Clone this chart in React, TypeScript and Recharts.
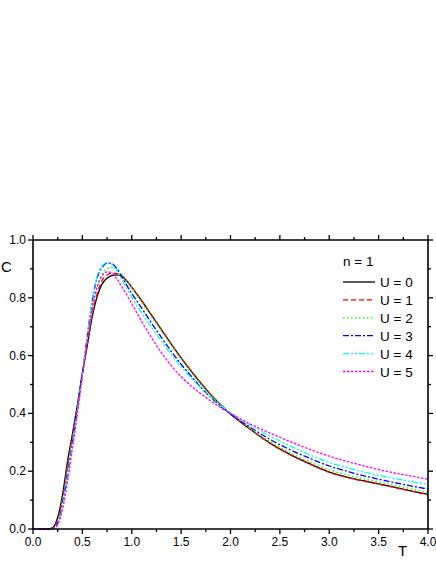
import React from 'react';
import { Line, LineChart, XAxis, YAxis } from 'recharts';

const temps = [
  0, 0.1, 0.15, 0.2, 0.25, 0.3, 0.35, 0.4, 0.45, 0.5, 0.55, 0.6, 0.65, 0.7,
  0.75, 0.8, 0.85, 0.9, 0.95, 1.0, 1.1, 1.2, 1.3, 1.4, 1.5, 1.6, 1.7, 1.8, 1.9,
  2.0, 2.2, 2.4, 2.6, 2.8, 3.0, 3.2, 3.4, 3.6, 3.8, 4.0,
];

const u0 = [
  0, 0, 0, 0.005, 0.04, 0.12, 0.235, 0.33, 0.43, 0.54, 0.635, 0.735, 0.805,
  0.848, 0.868, 0.877, 0.879, 0.874, 0.858, 0.836, 0.79, 0.74, 0.69, 0.64,
  0.592, 0.547, 0.505, 0.465, 0.43, 0.398, 0.345, 0.297, 0.258, 0.226, 0.197,
  0.178, 0.163, 0.149, 0.134, 0.12,
];
const u1 = [
  0, 0, 0, 0.003, 0.032, 0.108, 0.222, 0.322, 0.425, 0.535, 0.64, 0.745, 0.815,
  0.86, 0.879, 0.885, 0.884, 0.876, 0.86, 0.838, 0.79, 0.74, 0.69, 0.64, 0.592,
  0.546, 0.504, 0.465, 0.43, 0.398, 0.345, 0.297, 0.258, 0.225, 0.196, 0.177,
  0.162, 0.148, 0.133, 0.118,
];
const u2 = [
  0, 0, 0, 0.002, 0.026, 0.097, 0.207, 0.312, 0.42, 0.535, 0.65, 0.76, 0.84,
  0.882, 0.9, 0.905, 0.898, 0.882, 0.86, 0.835, 0.785, 0.735, 0.685, 0.636,
  0.588, 0.543, 0.5, 0.462, 0.43, 0.4, 0.348, 0.302, 0.264, 0.233, 0.205,
  0.185, 0.17, 0.156, 0.141, 0.127,
];
const u3 = [
  0, 0, 0, 0.001, 0.021, 0.087, 0.192, 0.3, 0.415, 0.537, 0.668, 0.79, 0.87,
  0.905, 0.92, 0.918, 0.9, 0.872, 0.843, 0.815, 0.765, 0.713, 0.663, 0.615,
  0.57, 0.53, 0.49, 0.455, 0.425, 0.398, 0.352, 0.31, 0.275, 0.245, 0.218,
  0.198, 0.18, 0.165, 0.151, 0.138,
];
const u4 = [
  0, 0, 0, 0.001, 0.018, 0.08, 0.182, 0.29, 0.41, 0.535, 0.67, 0.795, 0.875,
  0.91, 0.922, 0.915, 0.893, 0.862, 0.832, 0.8, 0.748, 0.698, 0.65, 0.604,
  0.562, 0.523, 0.488, 0.456, 0.428, 0.402, 0.36, 0.322, 0.288, 0.257, 0.23,
  0.21, 0.193, 0.179, 0.166, 0.155,
];
const u5 = [
  0, 0, 0, 0.001, 0.015, 0.07, 0.165, 0.28, 0.4, 0.53, 0.655, 0.765, 0.838,
  0.875, 0.89, 0.885, 0.865, 0.838, 0.81, 0.78, 0.718, 0.662, 0.61, 0.565,
  0.527, 0.495, 0.468, 0.443, 0.42, 0.4, 0.363, 0.332, 0.303, 0.276, 0.252,
  0.232, 0.214, 0.198, 0.185, 0.172,
];

const xTicks = [
  0, 0.25, 0.5, 0.75, 1, 1.25, 1.5, 1.75, 2, 2.25, 2.5, 2.75, 3, 3.25, 3.5,
  3.75, 4,
];
const yTicks = [0, 0.1, 0.2, 0.3, 0.4, 0.5, 0.6, 0.7, 0.8, 0.9, 1.0];

const series = [
  { key: 'u0', name: 'U = 0', color: '#000000', dash: undefined },
  { key: 'u1', name: 'U = 1', color: '#ff0000', dash: '5 3' },
  { key: 'u2', name: 'U = 2', color: '#00ff00', dash: '1.5 2.5' },
  { key: 'u3', name: 'U = 3', color: '#0000ff', dash: '6 2 2 2' },
  { key: 'u4', name: 'U = 4', color: '#00ffff', dash: '6 2 2 2 2 2' },
  { key: 'u5', name: 'U = 5', color: '#ff00ff', dash: '2.5 1.5' },
];

const data = temps.map((t, i) => ({
  t,
  u0: u0[i],
  u1: u1[i],
  u2: u2[i],
  u3: u3[i],
  u4: u4[i],
  u5: u5[i],
}));

const font = '"Liberation Sans", Arial, sans-serif';

const isMajor = (v: number, step: number) =>
  Math.abs(v / step - Math.round(v / step)) < 1e-6;

function XTick(props: any) {
  const { x, y, payload, side } = props;
  const v = payload.value;
  const major = isMajor(v, 0.5);
  const len = major ? 5 : 3;
  const dir = side === 'bottom' ? 1 : -1;
  return (
    <g>
      <line x1={x} y1={y} x2={x} y2={y + dir * len} stroke="#000" strokeWidth={1.3} />
      {side === 'bottom' && major && (
        <text x={x} y={y + 17} textAnchor="middle" fontSize={12} fontFamily={font} fill="#000">
          {v.toFixed(1)}
        </text>
      )}
    </g>
  );
}

function YTick(props: any) {
  const { x, y, payload, side } = props;
  const v = payload.value;
  const major = isMajor(v, 0.2);
  const len = major ? 5 : 3;
  const dir = side === 'left' ? -1 : 1;
  return (
    <g>
      <line x1={x} y1={y} x2={x + dir * len} y2={y} stroke="#000" strokeWidth={1.3} />
      {side === 'left' && major && (
        <text x={x - 7} y={y + 4} textAnchor="end" fontSize={12} fontFamily={font} fill="#000">
          {v.toFixed(1)}
        </text>
      )}
    </g>
  );
}

function LegendBox() {
  return (
    <svg width={92} height={140} style={{ fontFamily: font, fontSize: 13.5, display: 'block' }}>
      <text x={0} y={18} fill="#000">n = 1</text>
      {series.map((s, i) => (
        <g key={s.key}>
          <line
            x1={0}
            x2={32}
            y1={34 + i * 17.9}
            y2={34 + i * 17.9}
            stroke={s.color}
            strokeWidth={1.3}
            strokeDasharray={s.dash}
          />
          <text x={37} y={39 + i * 17.9} fill="#000">{s.name}</text>
        </g>
      ))}
    </svg>
  );
}

export default function App() {
  const axisLine = { stroke: '#000', strokeWidth: 1.6 };
  return (
    <div style={{ position: 'absolute', left: 0, top: 0, width: 436, height: 564, background: '#fff' }}>
      <LineChart
        width={436}
        height={564}
        data={data}
        margin={{ top: 239, right: 7, left: 0, bottom: 0 }}
      >
        <XAxis
          dataKey="t"
          type="number"
          domain={[0, 4]}
          ticks={xTicks}
          interval={0}
          height={35}
          axisLine={axisLine}
          tickLine={false}
          tickSize={0}
          tickMargin={0}
          tick={<XTick side="bottom" />}
        />
        <XAxis
          xAxisId="top"
          dataKey="t"
          orientation="top"
          type="number"
          domain={[0, 4]}
          allowDataOverflow
          ticks={xTicks}
          interval={0}
          height={1}
          axisLine={axisLine}
          tickLine={false}
          tickSize={0}
          tickMargin={0}
          tick={<XTick side="top" />}
        />
        <YAxis
          type="number"
          domain={[0, 1]}
          ticks={yTicks}
          interval={0}
          width={33}
          axisLine={axisLine}
          tickLine={false}
          tickSize={0}
          tickMargin={0}
          tick={<YTick side="left" />}
        />
        <YAxis
          yAxisId="right"
          orientation="right"
          type="number"
          domain={[0, 1]}
          allowDataOverflow
          ticks={yTicks}
          interval={0}
          width={1}
          axisLine={axisLine}
          tickLine={false}
          tickSize={0}
          tickMargin={0}
          tick={<YTick side="right" />}
        />
        {series.map((s) => (
          <Line
            key={s.key}
            type="monotone"
            dataKey={s.key}
            name={s.name}
            stroke={s.color}
            strokeWidth={1.3}
            strokeDasharray={s.dash}
            dot={false}
            activeDot={false}
            isAnimationActive={false}
          />
        ))}
      </LineChart>
      <div style={{ position: 'absolute', left: 343, top: 248 }}>
        <LegendBox />
      </div>
      <div style={{ position: 'absolute', left: 1, top: 258, fontFamily: font, fontSize: 15, lineHeight: '18px' }}>C</div>
      <div style={{ position: 'absolute', left: 398, top: 542, fontFamily: font, fontSize: 15, lineHeight: '18px' }}>T</div>
    </div>
  );
}
